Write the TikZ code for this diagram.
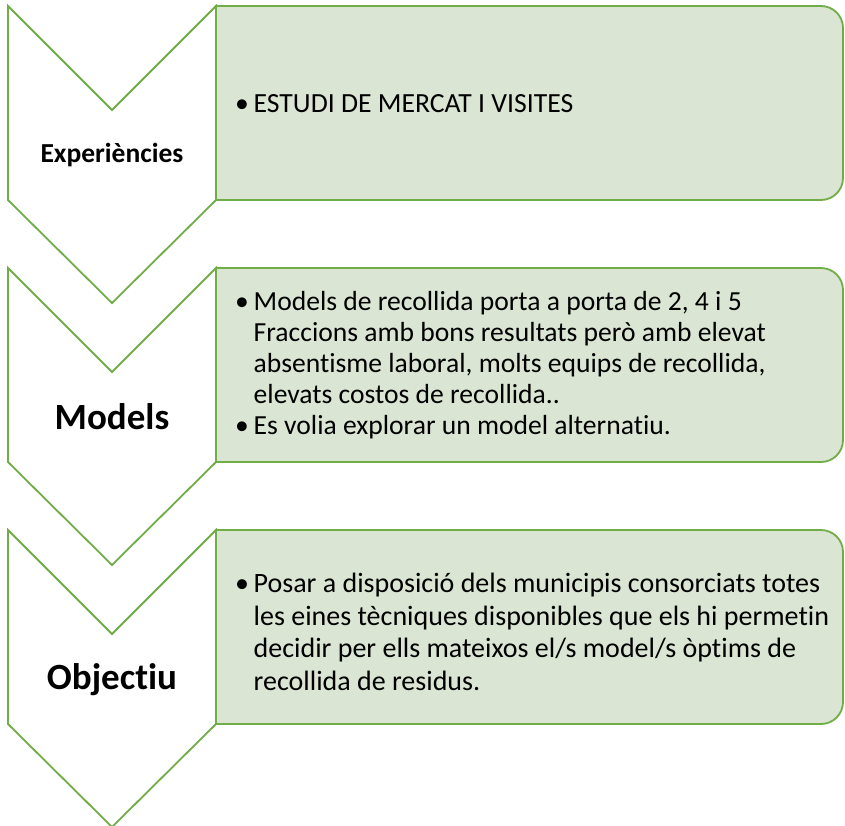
\documentclass[tikz,border=0pt]{standalone}
\usepackage{fontspec}
\setmainfont{Carlito}[Ligatures=NoCommon]
\usepackage{tikz}
\usetikzlibrary{positioning}

\definecolor{stepgreen}{HTML}{70AD47}
\definecolor{stepfill}{HTML}{DAE5D3}

\begin{document}
\begin{tikzpicture}[x=1pt, y=-1pt,
    chevron/.style={draw=stepgreen, line width=1.8pt, fill=white, line join=miter},
    stepbox/.style={draw=stepgreen, line width=1.8pt, fill=stepfill},
    steplabel/.style={inner sep=0pt, align=center},
    bullets/.style={anchor=west, inner sep=0pt}]
        \useasboundingbox (0,0) rectangle (845,825);
        % Text boxes first, then the chevrons on top of their left edges
        \foreach \t in {6,268,530} {
            \draw[stepbox] (216,\t) -- (821,\t) arc[start angle=-90, end angle=0, radius=22]
                -- (843,\t+172) arc[start angle=0, end angle=90, radius=22] -- (216,\t+194) -- cycle;
            \draw[chevron] (8,\t) -- (112,\t+104) -- (216,\t) -- (216,\t+194)
                -- (112,\t+297) -- (8,\t+194) -- cycle;
        }
        % Chevron labels
        \node[steplabel, font=\bfseries\fontsize{27.5}{30}\selectfont] (exper) at (112,155) {Experiències};
        \node[steplabel, font=\bfseries\fontsize{37}{40}\selectfont] (models) at (112,417) {Models};
        \node[steplabel, font=\bfseries\fontsize{37}{40}\selectfont] (objectiu) at (112,680) {Objectiu};
        % Bullet texts
        \node[bullets, font=\fontsize{27.7}{31}\selectfont] (exper-txt) at (235,106)
            {\begin{tabular}{@{}p{18.5pt}@{}l@{}}
             \textbullet & ESTUDI DE MERCAT I VISITES
             \end{tabular}};
        \node[bullets, font=\fontsize{27.6}{31}\selectfont] (models-txt) at (235,366)
            {\begin{tabular}{@{}p{18.5pt}@{}l@{}}
             \textbullet & Models de recollida porta a porta de 2, 4 i 5\\
              & Fraccions amb bons resultats però amb elevat\\
              & absentisme laboral, molts equips de recollida,\\
              & elevats costos de recollida..\\
             \textbullet & Es volia explorar un model alternatiu.
             \end{tabular}};
        \node[bullets, font=\fontsize{28}{32.5}\selectfont] (objectiu-txt) at (235,635)
            {\begin{tabular}{@{}p{18.5pt}@{}l@{}}
             \textbullet & Posar a disposició dels municipis consorciats totes\\
              & les eines tècniques disponibles que els hi permetin\\
              & decidir per ells mateixos el/s model/s òptims de\\
              & recollida de residus.
             \end{tabular}};
    \end{tikzpicture}
\end{document}
